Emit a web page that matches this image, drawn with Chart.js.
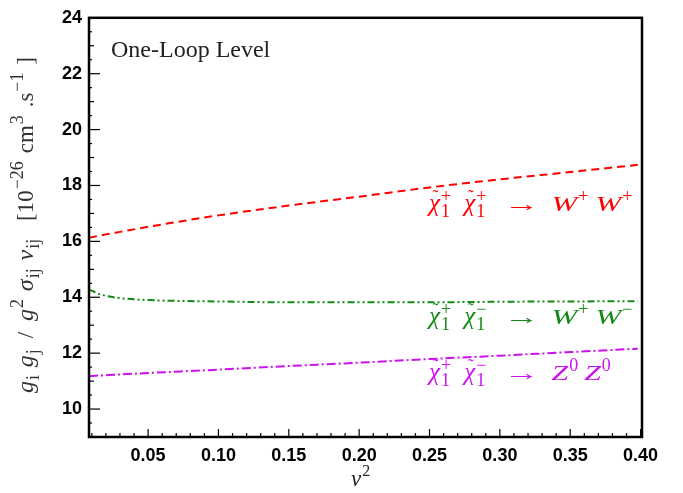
<!DOCTYPE html>
<html>
<head>
<meta charset="utf-8">
<script src="https://cdn.jsdelivr.net/npm/chart.js@4.4.0/dist/chart.umd.min.js"></script>
<style>
  html, body { margin: 0; padding: 0; background: #fff; }
  #wrap { width: 683px; height: 493px; }
</style>
</head>
<body>
<div id="wrap"><canvas id="chart" width="683" height="493"></canvas></div>
<script>
// ── Données ────────────────────────────────────────────────────
const xValues   = [0.008, 0.015, 0.02, 0.03, 0.05, 0.10, 0.15, 0.20, 0.25, 0.30, 0.35, 0.398];
const wpwp      = [16.13, 16.20, 16.25, 16.34, 16.52, 16.93, 17.28, 17.60, 17.93, 18.22, 18.48, 18.74];
const wpwm      = [14.28, 14.12, 14.05, 13.97, 13.90, 13.85, 13.82, 13.82, 13.82, 13.84, 13.85, 13.86];
const z0z0      = [11.18, 11.20, 11.21, 11.24, 11.29, 11.41, 11.54, 11.66, 11.79, 11.91, 12.04, 12.16];
const xTicks    = [0.05, 0.10, 0.15, 0.20, 0.25, 0.30, 0.35, 0.40];
const yTicks    = [10, 12, 14, 16, 18, 20, 22, 24];

const RED = '#ff0000', GREEN = '#138a13', MAGENTA = '#cc11ee';

const pts = ys => xValues.map((x, i) => ({ x, y: ys[i] }));

// ── Texte "mathématique" : base + indice/exposant ──────────────
// token : { b, font, sx, sub, sup, pre, post, tilde }
function tokenWidth(ctx, t, st) {
  ctx.font = t.font || st.main;
  let w = (t.pre || 0) + (t.b ? ctx.measureText(t.b).width * (t.sx || 1) : 0);
  ctx.font = st.small;
  const sw = Math.max(t.sub ? ctx.measureText(t.sub).width : 0, t.sup ? ctx.measureText(t.sup).width : 0);
  return w + (sw ? sw + 1 : 0) + (t.post || 0);
}

function mathWidth(ctx, tokens, st) {
  return tokens.reduce((w, t) => w + tokenWidth(ctx, t, st), 0);
}

function drawMath(ctx, x, y, tokens, color, st, extra = 0) {
  ctx.save();
  ctx.fillStyle = color;
  ctx.textBaseline = 'alphabetic';
  ctx.textAlign = 'left';
  tokens.forEach(t => {
    x += t.pre || 0;
    ctx.font = t.font || st.main;
    if (t.b) {
      const bw = ctx.measureText(t.b).width * (t.sx || 1);
      ctx.save();
      ctx.translate(x, y);
      ctx.scale(t.sx || 1, 1);
      ctx.fillText(t.b, 0, 0);
      ctx.restore();
      if (t.tilde) {
        ctx.save();
        ctx.font = st.small;
        ctx.textAlign = 'center';
        ctx.fillText('˜', x + bw / 2 + 1, y - 8);
        ctx.restore();
      }
      x += bw;
    }
    ctx.font = st.small;
    let sw = 0;
    if (t.sup) { ctx.fillText(t.sup, x + 1, y + st.supDy); sw = Math.max(sw, ctx.measureText(t.sup).width); }
    if (t.sub) { ctx.fillText(t.sub, x + 1, y + st.subDy); sw = Math.max(sw, ctx.measureText(t.sub).width); }
    x += (sw ? sw + 1 : 0) + (t.post || 0) + extra;
  });
  ctx.restore();
}

const LBL = { main: 'italic 25px "Liberation Serif"', small: '18px "Liberation Serif"', supDy: -9, subDy: 6 };
const WFONT = 'italic 20px "Liberation Serif"';

const chi = (sup, post) => ({ b: 'χ', tilde: true, sub: '1', sup, post });
const ARROW = { b: '→', font: '22px "Liberation Serif"', sx: 1.6, pre: 18, post: 12 };
const W = (sup, post) => ({ b: 'W', font: WFONT, sx: 1.55, sup, post });
const Z = (post) => ({ b: 'Z', font: WFONT, sx: 1.5, sup: '0', post });

const seriesLabels = [
  { x: 429, y: 211, color: RED,     tokens: [chi('+', 13), chi('+'), ARROW, W('+', 7), W('+')] },
  { x: 429, y: 324, color: GREEN,   tokens: [chi('+', 13), chi('−'), ARROW, W('+', 7), W('−')] },
  { x: 429, y: 380, color: MAGENTA, tokens: [chi('+', 13), chi('−'), ARROW, Z(6), Z(0)] },
];

const YST = { main: 'italic 24px "Liberation Serif"', small: '18px "Liberation Serif"', supDy: -10, subDy: 6 };
const RM = '23px "Liberation Serif"';
const yTitle = [
  { b: 'g', sub: 'i' }, { b: 'g', sub: 'j' }, { b: '/', font: RM, pre: 3, post: 3 },
  { b: 'g', sup: '2' }, { b: 'σ', sub: 'ij' }, { b: 'v', sub: 'ij', post: 10 },
  { b: '[10', font: RM, sup: '−26' }, { b: 'cm', font: RM, sup: '3' },
  { b: '.s', font: RM, sup: '−1' }, { b: ']', font: RM },
];
const Y_TITLE_LEN = 336;

// ── Cadre, graduations internes, annotations ───────────────────
const decor = {
  id: 'decor',
  afterDatasetsDraw(chart) {
    const { ctx, chartArea: a, scales: { x, y } } = chart;
    ctx.save();
    ctx.strokeStyle = '#000';

    // graduations x (vers l'intérieur)
    ctx.lineWidth = 1.2;
    for (let i = 1; i <= 40; i++) {
      const px = x.getPixelForValue(i / 100);
      if (px < a.left + 1 || px > a.right) continue;
      const len = i % 5 === 0 ? 8 : 4;
      ctx.beginPath(); ctx.moveTo(px, a.bottom); ctx.lineTo(px, a.bottom - len); ctx.stroke();
    }
    // graduations y
    for (let v = 9; v <= 24; v += 0.5) {
      const py = y.getPixelForValue(v);
      const len = v % 2 === 0 ? 11 : (v % 1 === 0 ? 5 : 3);
      ctx.beginPath(); ctx.moveTo(a.left, py); ctx.lineTo(a.left + len, py); ctx.stroke();
    }

    // cadre
    ctx.lineWidth = 2.5;
    ctx.strokeRect(a.left, a.top, a.right - a.left, a.bottom - a.top);

    // titre
    ctx.fillStyle = '#222';
    ctx.font = '24px "Liberation Serif"';
    ctx.textBaseline = 'alphabetic';
    ctx.fillText('One-Loop Level', 111, 57);

    seriesLabels.forEach(l => drawMath(ctx, l.x, l.y, l.tokens, l.color, LBL));

    // titre axe x
    drawMath(ctx, 351, 486, [{ b: 'v', sup: '2' }], '#222',
      { main: 'italic 23px "Liberation Serif"', small: '16px "Liberation Serif"', supDy: -10, subDy: 6 });

    // titre axe y (vertical)
    ctx.translate(33, 225);
    ctx.rotate(-Math.PI / 2);
    const w = mathWidth(ctx, yTitle, YST);
    const extra = Math.max(0, (Y_TITLE_LEN - w) / (yTitle.length - 1));
    drawMath(ctx, -Y_TITLE_LEN / 2, 0, yTitle, '#333', YST, extra);
    ctx.restore();
  }
};

const ds = (label, data, color, dash) => ({
  label, data, borderColor: color, borderWidth: 2, borderDash: dash,
  pointRadius: 0, fill: false, cubicInterpolationMode: 'monotone',
});

new Chart(document.getElementById('chart'), {
  type: 'line',
  data: {
    datasets: [
      ds('W+W+', pts(wpwp), RED, [8, 5]),
      ds('W+W-', pts(wpwm), GREEN, [7, 3, 2, 3, 2, 3]),
      ds('Z0Z0', pts(z0z0), MAGENTA, [9, 3, 2, 3]),
    ],
  },
  options: {
    responsive: false,
    animation: false,
    layout: { padding: { top: 16, right: 41, left: 0, bottom: 0 } },
    plugins: { legend: { display: false }, tooltip: { enabled: false } },
    scales: {
      x: {
        type: 'linear', min: 0.008, max: 0.401,
        grid: { display: false, drawTicks: false },
        border: { display: false },
        afterBuildTicks: s => { s.ticks = xTicks.map(value => ({ value })); },
        afterFit: s => { s.height = 56; },
        ticks: {
          padding: 8, color: '#000', maxRotation: 0, autoSkip: false,
          font: { family: 'Liberation Sans', weight: 'bold', size: 18 },
          callback: v => v.toFixed(2),
        },
      },
      y: {
        type: 'linear', min: 9, max: 24,
        grid: { display: false, drawTicks: false },
        border: { display: false },
        afterBuildTicks: s => { s.ticks = yTicks.map(value => ({ value })); },
        afterFit: s => { s.width = 89; },
        ticks: {
          padding: 7, color: '#000',
          font: { family: 'Liberation Sans', weight: 'bold', size: 18 },
        },
      },
    },
  },
  plugins: [decor],
});
</script>
</body>
</html>
